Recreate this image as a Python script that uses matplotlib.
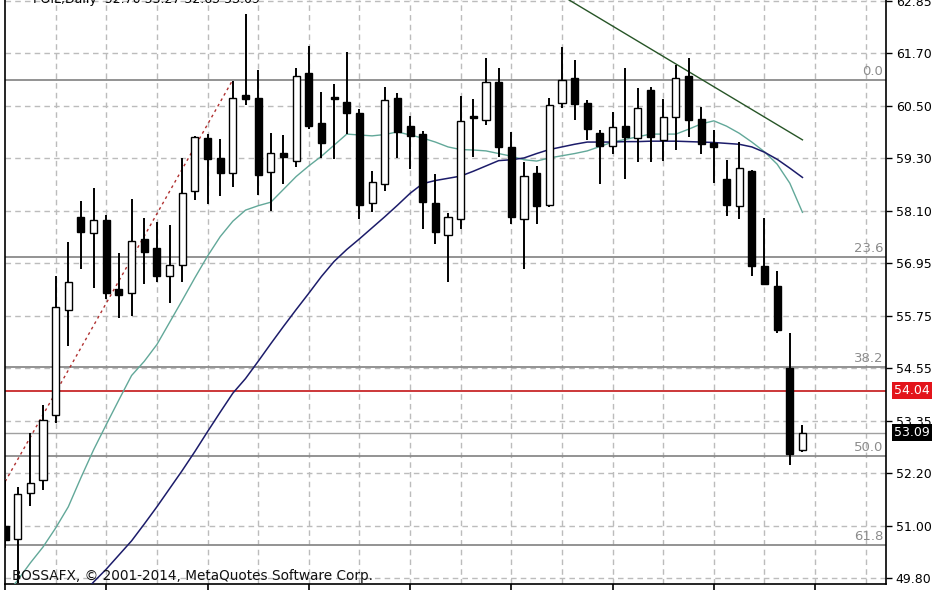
import matplotlib
matplotlib.use("Agg")
import matplotlib.pyplot as plt
import numpy as np
from matplotlib.patches import Rectangle

# ---------------- data ----------------
title_text = "POIL,Daily  52.70 53.27 52.65 53.09"
copyright_text = "BOSSAFX, \u00a9 2001-2014, MetaQuotes Software Corp."

opens = [50.98, 50.68, 51.73, 52.02, 53.49, 55.87, 57.96, 57.60, 57.89, 56.33,
         56.24, 57.46, 57.26, 56.62, 56.87, 58.55, 59.75, 59.30, 58.96, 60.73,
         60.66, 58.98, 59.41, 59.23, 61.22, 60.09, 60.66, 60.57, 60.32, 58.28,
         58.71, 60.66, 60.02, 59.84, 58.28, 57.55, 57.91, 60.25, 60.16, 61.02,
         59.55, 57.91, 58.96, 58.23, 60.54, 61.11, 60.54, 59.86, 59.57, 60.02,
         59.75, 60.84, 59.71, 60.23, 61.16, 60.18, 59.64, 58.82, 58.21, 59.00,
         56.85, 56.40, 54.56, 52.70]
highs = [52.02, 51.86, 53.09, 53.72, 56.62, 57.39, 58.32, 58.62, 58.01, 57.14,
         58.37, 57.94, 57.85, 57.78, 59.30, 59.80, 59.84, 59.73, 61.04, 62.56,
         61.29, 59.86, 59.82, 61.34, 61.84, 60.79, 60.97, 61.70, 60.41, 59.00,
         60.91, 60.77, 60.25, 59.91, 58.93, 58.05, 60.70, 60.63, 61.56, 61.34,
         59.89, 59.21, 59.12, 60.66, 61.81, 61.52, 60.61, 59.93, 60.34, 61.34,
         60.88, 60.91, 60.63, 61.41, 61.56, 60.45, 59.93, 59.25, 59.66, 59.03,
         57.94, 56.74, 55.33, 53.27]
lows = [50.48, 49.69, 51.43, 51.79, 53.31, 55.04, 56.80, 56.37, 56.10, 55.69,
        55.72, 56.44, 56.49, 56.03, 56.49, 58.35, 58.25, 58.44, 58.64, 60.50,
        58.46, 58.10, 58.71, 59.09, 59.95, 59.30, 59.27, 59.84, 57.91, 58.07,
        58.55, 59.30, 59.05, 57.69, 57.35, 56.49, 57.69, 59.32, 60.05, 59.32,
        57.80, 56.80, 57.80, 58.19, 60.43, 60.16, 59.71, 58.71, 59.39, 58.82,
        59.21, 59.21, 59.23, 59.48, 59.77, 59.39, 58.73, 57.98, 57.91, 56.62,
        56.44, 55.35, 52.36, 52.65]
closes = [50.66, 51.70, 51.95, 53.38, 55.92, 56.49, 57.62, 57.89, 56.24, 56.19,
          57.42, 57.17, 56.62, 56.87, 58.50, 59.77, 59.27, 58.96, 60.66, 60.63,
          58.91, 59.41, 59.32, 61.16, 60.02, 59.64, 60.63, 60.32, 58.23, 58.75,
          60.61, 59.89, 59.80, 58.30, 57.62, 57.96, 60.14, 60.20, 61.02, 59.55,
          57.96, 58.89, 58.21, 60.50, 61.07, 60.52, 59.95, 59.57, 60.00, 59.77,
          60.43, 59.77, 60.23, 61.11, 60.16, 59.61, 59.55, 58.23, 59.07, 56.85,
          56.46, 55.42, 52.61, 53.09]

ma_fast = [49.39, 49.75, 50.14, 50.50, 50.93, 51.41, 52.07, 52.70, 53.27, 53.83,
           54.38, 54.70, 55.08, 55.58, 56.08, 56.59, 57.08, 57.52, 57.87, 58.12,
           58.22, 58.30, 58.59, 58.88, 59.12, 59.34, 59.59, 59.84, 59.82, 59.80,
           59.83, 59.89, 59.82, 59.75, 59.66, 59.55, 59.49, 59.48, 59.46, 59.40,
           59.34, 59.26, 59.23, 59.30, 59.35, 59.40, 59.46, 59.56, 59.66, 59.72,
           59.78, 59.84, 59.84, 59.84, 59.95, 60.07, 60.14, 60.02, 59.86, 59.66,
           59.44, 59.16, 58.73, 58.07]
ma_slow = [np.nan, np.nan, np.nan, np.nan, np.nan, 49.07, 49.39, 49.71, 50.00, 50.32,
           50.64, 51.02, 51.41, 51.82, 52.23, 52.66, 53.11, 53.55, 53.98, 54.31,
           54.70, 55.10, 55.49, 55.87, 56.24, 56.62, 56.96, 57.23, 57.47, 57.72,
           57.97, 58.23, 58.50, 58.72, 58.79, 58.84, 58.89, 59.00, 59.12, 59.24,
           59.26, 59.30, 59.40, 59.49, 59.55, 59.61, 59.66, 59.66, 59.66, 59.67,
           59.67, 59.68, 59.68, 59.68, 59.67, 59.66, 59.65, 59.63, 59.61, 59.55,
           59.43, 59.27, 59.07, 58.86]

y_tick_labels = ["49.80", "51.00", "52.20", "53.35", "54.55", "55.75",
                 "56.95", "58.10", "59.30", "60.50", "61.70", "62.85"]

fib_levels = [0.0, 23.6, 38.2, 50.0, 61.8]
fib_labels = ["0.0", "23.6", "38.2", "50.0", "61.8"]
fib_high, fib_low = 61.07, 44.04
fib_high_bar, fib_low_bar = 18.0, -15.7

trend_bars = [44.0, 63.0]
trend_prices = [62.97, 59.71]

hline_price = 54.04
bid_price = 53.09

# ---------------- figure ----------------
W, H = 948, 593
fig = plt.figure(figsize=(W / 100, H / 100), dpi=100)
fig.patch.set_facecolor("white")
ax = fig.add_axes([4.5 / W, 9 / H, 881.5 / W, 584 / H])
ax.set_facecolor("white")

n = len(opens)
x = np.arange(n)
ax.set_xlim(-0.04, 69.6)
ax.set_ylim(49.664, 62.873)

# grid
grid_col = "#bcbcbc"
ytick_pos = np.linspace(float(y_tick_labels[0]), float(y_tick_labels[-1]), len(y_tick_labels))
for yp in ytick_pos:
    ax.axhline(yp, color=grid_col, lw=1.0, ls=(0, (4, 3)), zorder=1)
for xv in range(4, 70, 4):
    ax.axvline(xv, color=grid_col, lw=1.0, ls=(0, (4, 3)), zorder=1)

# fibonacci levels
fib_col = "#8a8a8a"
for lvl, lab in zip(fib_levels, fib_labels):
    price = fib_high - lvl / 100.0 * (fib_high - fib_low)
    ax.axhline(price, color=fib_col, lw=1.3, zorder=2)
    ax.annotate(lab, xy=(1, price), xycoords=("axes fraction", "data"),
                xytext=(-2, 1.5), textcoords="offset points", ha="right", va="bottom",
                color="#8c8c8c", fontsize=9.5, zorder=6)
ax.plot([fib_low_bar, fib_high_bar], [fib_low, fib_high], color="#b03030",
        lw=1.0, ls=(0, (2, 2.5)), zorder=3)

# horizontal red line and bid line
ax.axhline(hline_price, color="#c8282a", lw=1.3, zorder=2)
ax.axhline(bid_price, color="#a0a0a0", lw=1.0, zorder=2)

# moving averages and trendline
ax.plot(x, ma_fast, color="#62a899", lw=1.0, zorder=4)
ax.plot(x, ma_slow, color="#1c1c6a", lw=1.1, zorder=4)
ax.plot(trend_bars, trend_prices, color="#275527", lw=1.0, zorder=4)

# candles
bw = 0.56
for i in range(n):
    o, h, l, c = opens[i], highs[i], lows[i], closes[i]
    ax.vlines(i, l, h, color="black", lw=1.4, zorder=5)
    bottom = min(o, c)
    height = max(abs(c - o), 0.04)
    fc = "white" if c >= o else "black"
    ax.add_patch(Rectangle((i - bw / 2, bottom), bw, height, facecolor=fc,
                           edgecolor="black", lw=1.0, zorder=6))

# axes styling
ax.spines["top"].set_visible(False)
for s in ["left", "right", "bottom"]:
    ax.spines[s].set_color("black")
    ax.spines[s].set_linewidth(1.2)

ax.yaxis.tick_right()
ax.set_yticks(ytick_pos)
ax.set_yticklabels(y_tick_labels)
ax.tick_params(axis="y", direction="out", length=4, width=1, pad=3,
               labelsize=9, colors="black")
ax.set_xticks(np.arange(0, 70, 8))
ax.set_xticklabels([])
ax.tick_params(axis="x", direction="out", length=4, width=1.2)

# price labels on the right axis
for price, bg in [(hline_price, "#e3141b"), (bid_price, "black")]:
    ax.annotate(f"{price:.2f}", xy=(1, price), xycoords=("axes fraction", "data"),
                xytext=(6, 0), textcoords="offset points", ha="left", va="center",
                color="white", fontsize=9, annotation_clip=False, zorder=10,
                bbox=dict(boxstyle="square,pad=0.18", fc=bg, ec="none"))

# texts
fig.text(33 / W, 1 - 3 / H, title_text, fontsize=9, va="baseline", ha="left", color="black")
fig.text(12 / W, 1 - 580 / H, copyright_text, fontsize=9.8, va="baseline", ha="left",
         color="#111111")

fig.savefig("out.png", dpi=100, facecolor="white")
